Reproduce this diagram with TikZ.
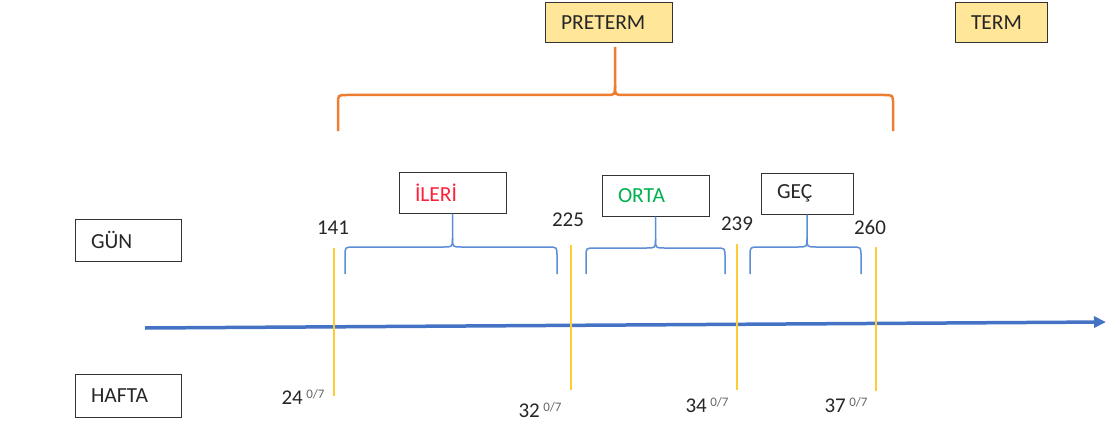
\documentclass[tikz,border=0pt]{standalone}
\usepackage{fontspec}
\setmainfont{Carlito}
\usepackage{tikz}
\usepackage{xcolor}
\usetikzlibrary{arrows.meta}

\definecolor{eixoazul}{HTML}{4472C4}
\definecolor{chaveazul}{HTML}{5B8ED6}
\definecolor{chavelaranja}{HTML}{ED7D31}
\definecolor{linhaamarela}{HTML}{FFCC33}
\definecolor{caixaamarela}{HTML}{FFE699}
\definecolor{textovermelho}{HTML}{FF1F3A}
\definecolor{textoverde}{HTML}{00B050}

% chave: cor, x esq, x dir, y horizontal, y pontas, x bico, alvo do bico
\newcommand{\chave}[7]{%
  \draw[#1] (#2,#5) -- (#2,#4+9) .. controls (#2,#4) .. (#2+9,#4)
    -- (#6-9,#4) .. controls (#6,#4) .. (#6,#4-9) -- (#7);
  \draw[#1] (#3,#5) -- (#3,#4+9) .. controls (#3,#4) .. (#3-9,#4)
    -- (#6+9,#4) .. controls (#6,#4) .. (#6,#4-9);
}

\tikzset{
  caixa/.style={draw=black!80, line width=1pt, inner xsep=16pt, inner ysep=0pt,
    align=left, font=\fontsize{21.5}{24}\selectfont, text=black!85},
  rotulo/.style={font=\fontsize{21}{24}\selectfont, text=black!85, inner sep=0pt},
  semana/.style={font=\fontsize{21}{24}\selectfont, text=black!85, inner sep=0pt},
  marca/.style={linhaamarela, line width=1.5pt},
}

\begin{document}
\begin{tikzpicture}[x=1pt, y=-1pt]
  \useasboundingbox (0,0) rectangle (1107,425);

  % caixas de cima
  \node[caixa, fill=caixaamarela, text width=95pt, minimum height=40pt] (preterm) at (608.5,23) {PRETERM};
  \node[caixa, fill=caixaamarela, text width=60pt, minimum height=40pt] (term) at (1001,23) {TERM};

  % caixas dos grupos
  \node[caixa, text width=75pt, minimum height=41pt, text=textovermelho] (ileri) at (452.5,192.5) {İLERİ};
  \node[caixa, text width=75pt, minimum height=41pt, text=textoverde] (orta) at (655.5,195.5) {ORTA};
  \node[caixa, text width=60pt, minimum height=41pt] (gec) at (807,193.5) {GEÇ};

  % caixas da esquerda
  \node[caixa, text width=74pt, minimum height=42pt] (gun) at (128,240) {GÜN};
  \node[caixa, text width=74pt, minimum height=43pt] (hafta) at (128,396) {HAFTA};

  % eixo
  \coordinate (inicio) at (145,328);
  \coordinate (fim) at (1106,322);
  \draw[eixoazul, line width=3.5pt, -{Triangle[length=12pt, width=11pt]}] (inicio) -- (fim);

  % chave laranja
  \coordinate (bico) at (615,47);
  \chave{chavelaranja, line width=2.5pt}{338}{893}{95}{131}{615}{bico}

  % chaves azuis
  \chave{chaveazul, line width=1.5pt}{345}{557}{247}{274}{452.5}{ileri.south}
  \chave{chaveazul, line width=1.5pt}{586}{725}{248}{274}{655.5}{orta.south}
  \chave{chaveazul, line width=1.5pt}{750}{861}{247}{274}{807}{gec.south}

  % dias
  \node[rotulo] (d141) at (333,228) {141};
  \node[rotulo] (d225) at (568,220) {225};
  \node[rotulo] (d239) at (737,224) {239};
  \node[rotulo] (d260) at (870,227) {260};

  % linhas amarelas
  \foreach \x/\a/\b in {334/248/396, 571/245/390, 737/244/390, 876/247/391}
    \draw[marca] (\x,\a) -- (\x,\b);

  % semanas
  \node[semana] (s24) at (303,397) {24\,\raisebox{6pt}{\fontsize{13}{14}\selectfont\color{black!60}0/7}};
  \node[semana] (s32) at (540,410) {32\,\raisebox{6pt}{\fontsize{13}{14}\selectfont\color{black!60}0/7}};
  \node[semana] (s34) at (707,405) {34\,\raisebox{6pt}{\fontsize{13}{14}\selectfont\color{black!60}0/7}};
  \node[semana] (s37) at (846,405) {37\,\raisebox{6pt}{\fontsize{13}{14}\selectfont\color{black!60}0/7}};
\end{tikzpicture}
\end{document}
